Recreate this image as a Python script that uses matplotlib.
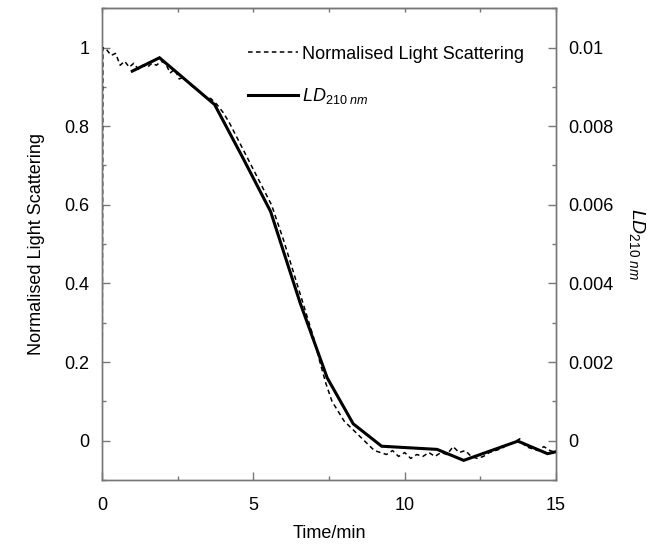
import matplotlib
matplotlib.use("Agg")
import matplotlib.pyplot as plt
from matplotlib.ticker import MultipleLocator

plt.rcParams['font.family'] = ['Liberation Sans', 'DejaVu Sans']
plt.rcParams['mathtext.fontset'] = 'custom'
plt.rcParams['mathtext.it'] = 'Liberation Sans:italic'
plt.rcParams['mathtext.rm'] = 'Liberation Sans'

# normalised light scattering (left axis)
ls_time = [0.0, 0.03, 0.15, 0.3, 0.45, 0.6, 0.75, 0.9, 1.05, 1.2, 1.35, 1.5, 1.65, 1.8, 1.95,
           2.1, 2.25, 2.4, 2.55, 2.7, 2.85, 3.0, 3.2, 3.4, 3.6, 3.8, 4.0, 4.2, 4.4, 4.6, 4.8,
           5.0, 5.2, 5.4, 5.6, 5.8, 6.0, 6.2, 6.4, 6.6, 6.8, 7.0, 7.2, 7.4, 7.6, 7.8, 8.0,
           8.2, 8.4, 8.6, 8.8, 9.0, 9.2, 9.4, 9.6, 9.8, 10.0, 10.2, 10.4, 10.6, 10.8, 11.0,
           11.2, 11.4, 11.6, 11.8, 12.0, 12.2, 12.4, 12.6, 12.8, 13.0, 13.2, 13.4, 13.6, 13.8,
           14.0, 14.2, 14.4, 14.6, 14.8, 15.0]
ls_val = [-0.1, 1.0, 0.995, 0.98, 0.985, 0.955, 0.965, 0.95, 0.96, 0.945, 0.955, 0.95, 0.96, 0.955, 0.965,
          0.96, 0.935, 0.945, 0.92, 0.925, 0.91, 0.9, 0.89, 0.875, 0.87, 0.855, 0.835, 0.81, 0.78, 0.75, 0.72,
          0.69, 0.66, 0.63, 0.6, 0.555, 0.51, 0.46, 0.41, 0.36, 0.31, 0.26, 0.2, 0.145, 0.1, 0.075, 0.05,
          0.035, 0.02, 0.005, -0.01, -0.025, -0.03, -0.035, -0.025, -0.04, -0.03, -0.045, -0.035, -0.04, -0.03, -0.04,
          -0.03, -0.035, -0.015, -0.03, -0.025, -0.04, -0.045, -0.04, -0.03, -0.025, -0.02, -0.01, -0.005, 0.005,
          -0.015, -0.02, -0.025, -0.015, -0.025, -0.03]

# linear dichroism at 210 nm (right axis)
ld_time = [1.0, 1.9, 3.72, 4.65, 5.57, 6.54, 7.44, 8.3, 9.24, 11.07, 11.95, 13.74, 14.72, 15.0]
ld_val = [0.0094, 0.00974, 0.00855, 0.0072, 0.00583, 0.00352, 0.0016, 0.00043, -0.00014,
          -0.00022, -0.0005, -0.00001, -0.00033, -0.00028]

fig = plt.figure(figsize=(6.58, 5.48), dpi=100)
ax = fig.add_axes([0.155, 0.124, 0.69, 0.861])
ax2 = ax.twinx()

l1, = ax.plot(ls_time, ls_val, color='black', lw=1.1, ls=(0, (3.0, 2.2)),
              label='Normalised Light Scattering')
l2, = ax2.plot(ld_time, ld_val, color='black', lw=2.2, solid_joinstyle='miter',
               label=r'$LD_{210\ nm}$')

ax.set_xlim(0, 15)
ax.set_ylim(-0.1, 1.1)
ax2.set_ylim(-0.001, 0.011)

ax.xaxis.set_major_locator(MultipleLocator(5))
ax.xaxis.set_minor_locator(MultipleLocator(2.5))
ax.yaxis.set_minor_locator(MultipleLocator(0.1))
ax2.yaxis.set_minor_locator(MultipleLocator(0.001))
ax.set_yticks([0, 0.2, 0.4, 0.6, 0.8, 1.0])
ax.set_yticklabels(['0', '0.2', '0.4', '0.6', '0.8', '1'])
ax2.set_yticks([0, 0.002, 0.004, 0.006, 0.008, 0.01])
ax2.set_yticklabels(['0', '0.002', '0.004', '0.006', '0.008', '0.01'])

grey = '#777777'
for a in (ax, ax2):
    for s in a.spines.values():
        s.set_color(grey)
        s.set_linewidth(1.0)
    a.tick_params(which='major', direction='in', length=6, width=1, color=grey, labelsize=13, pad=9)
    a.tick_params(which='minor', direction='in', length=3, width=1, color=grey)
ax.tick_params(axis='x', pad=12)

top = ax.secondary_xaxis('top')
top.set_xticks([0, 2.5, 5, 7.5, 10, 12.5, 15])
top.set_xticklabels([])
top.tick_params(direction='in', length=3, width=1, color=grey)

ax.set_xlabel('Time/min', fontsize=13, labelpad=8)
ax.set_ylabel('Normalised Light Scattering', fontsize=13, labelpad=14)
ax2.set_ylabel(r'$LD_{210\ nm}$', fontsize=14, rotation=270, labelpad=24)

ax.legend(handles=[l1, l2], loc='upper left', bbox_to_anchor=(0.285, 0.955), frameon=False,
          fontsize=13, handlelength=2.8, handletextpad=0.2, labelspacing=1.3)

fig.savefig('out.png', dpi=100)
